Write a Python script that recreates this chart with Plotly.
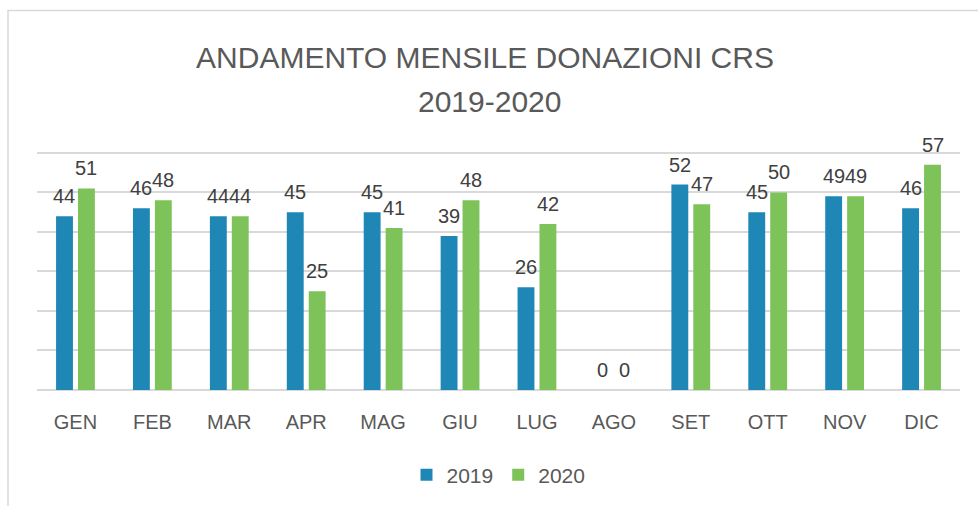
import plotly.graph_objects as go

# Dati mensili donazioni
mesi = ['GEN', 'FEB', 'MAR', 'APR', 'MAG', 'GIU', 'LUG', 'AGO', 'SET', 'OTT', 'NOV', 'DIC']
donazioni_2019 = [44, 46, 44, 45, 45, 39, 26, 0, 52, 45, 49, 46]
donazioni_2020 = [51, 48, 44, 25, 41, 48, 42, 0, 47, 50, 49, 57]

BLU = '#1F87B5'
VERDE = '#7DC35A'
FONT = 'Liberation Sans, Arial, sans-serif'

serie = [('2019', donazioni_2019, BLU, -11), ('2020', donazioni_2020, VERDE, 11)]

fig = go.Figure()

for nome, valori, colore, _ in serie:
    fig.add_trace(go.Bar(
        x=mesi,
        y=valori,
        name=nome,
        marker=dict(color=colore, line=dict(width=0)),
        cliponaxis=False,
    ))

# Etichette dati sopra le barre (un po' staccate, come in Excel)
for nome, valori, colore, dx in serie:
    for mese, v in zip(mesi, valori):
        fig.add_annotation(
            x=mese, y=v, text=str(v), showarrow=False,
            xshift=dx, yshift=7, yanchor='bottom',
            font=dict(size=20, color='#404040', family=FONT),
        )

# Layout in pixel: asse y 0..62 (griglia fino a 60), 60 -> y=153, 0 -> y=391
W, H = 978, 506
Y_MAX = 62
base, top60 = 391, 153
px_unit = (base - top60) / 60
ml, mr = 37, 18
mb = H - base
mt = base - Y_MAX * px_unit
pw, ph = W - ml - mr, H - mt - mb


def py(ypix):
    # pixel verticale -> coordinata paper
    return (base - ypix) / ph


fig.add_shape(
    type='rect', xref='paper', yref='paper',
    x0=(8 - ml) / pw, x1=(W + 5 - ml) / pw,
    y0=py(H + 5), y1=py(10),
    line=dict(color='#D9D9D9', width=1.5), fillcolor='rgba(0,0,0,0)', layer='below',
)

# seconda riga del titolo
fig.add_annotation(
    text='2019-2020', xref='paper', yref='paper',
    x=(489 - ml) / pw, y=py(101),
    xanchor='center', yanchor='middle', showarrow=False,
    font=dict(size=30, color='#595959', family=FONT),
)

fig.update_layout(
    width=W, height=H,
    margin=dict(l=ml, r=mr, t=mt, b=mb),
    paper_bgcolor='white',
    plot_bgcolor='white',
    font=dict(family=FONT, color='#595959'),
    title=dict(
        text='ANDAMENTO MENSILE DONAZIONI CRS',
        x=485 / W, xanchor='center',
        y=1 - 57 / H, yanchor='middle', yref='container',
        font=dict(size=30, color='#595959', family=FONT),
    ),
    barmode='group',
    bargap=0.43,
    bargroupgap=0.23,
    showlegend=True,
    legend=dict(
        orientation='h', x=0.5, xanchor='center',
        y=py(475), yanchor='middle',
        font=dict(size=21, color='#595959'),
        itemwidth=30,
    ),
    xaxis=dict(
        showgrid=False, showline=False,
        ticks='outside', ticklen=14, tickcolor='rgba(0,0,0,0)',
        tickfont=dict(size=20, color='#595959'),
    ),
    yaxis=dict(
        range=[0, Y_MAX], tickvals=[0, 10, 20, 30, 40, 50, 60],
        showgrid=True, gridcolor='#D9D9D9', gridwidth=1.5,
        zeroline=True, zerolinecolor='#D9D9D9', zerolinewidth=1.5,
        showticklabels=False,
    ),
)

# la pagina ha un margine di default di 8px: lo azzero
fig.write_html('out.html', config={'displayModeBar': False},
               post_script="document.body.style.margin='0';")
